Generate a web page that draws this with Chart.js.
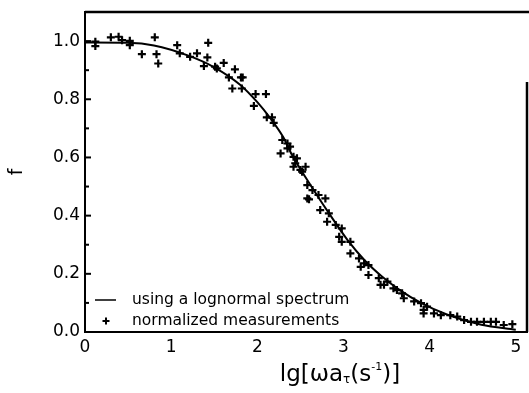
<!DOCTYPE html>
<html>
<head>
<meta charset="utf-8">
<script src="https://cdn.jsdelivr.net/npm/chart.js@4/dist/chart.umd.min.js"></script>
<style>
  body { margin: 0; background: #fff; }
  #wrap { width: 529px; height: 393px; }
</style>
</head>
<body>
<div id="wrap"><canvas id="relax" width="529" height="393"></canvas></div>
<script>
// lognormal spectrum fit, f vs lg(omega a_T)
const curveX = [0, 0.5, 0.8, 1.2, 1.5, 1.8, 2.0, 2.15, 2.3, 2.4, 2.65, 2.85, 3.05, 3.25, 3.45, 3.65, 3.9, 4.2, 4.6, 5.0];
const curveF = [0.995, 0.994, 0.985, 0.95, 0.91, 0.85, 0.79, 0.735, 0.67, 0.61, 0.49, 0.40, 0.315, 0.245, 0.19, 0.145, 0.10, 0.06, 0.025, 0.008];

// normalized measurements
const measX = [0.12, 0.12, 0.30, 0.39, 0.43, 0.52, 0.52, 0.66, 0.81, 0.83, 0.85, 1.07, 1.10, 1.22, 1.30, 1.42, 1.43, 1.38,
  1.51, 1.53, 1.61, 1.67, 1.71, 1.74, 1.81, 1.83, 1.82, 1.96, 1.98, 2.10, 2.11, 2.17, 2.19, 2.29, 2.27, 2.35, 2.38,
  2.42, 2.46, 2.42, 2.52, 2.56, 2.58, 2.58, 2.35, 2.44, 2.50, 2.64, 2.71, 2.60, 2.79, 2.73, 2.83, 2.81, 2.91, 2.98,
  2.95, 2.98, 3.08, 3.08, 3.18, 3.24, 3.20, 3.29, 3.29, 3.41, 3.51, 3.43, 3.47, 3.58, 3.62, 3.68, 3.70, 3.82, 3.90,
  3.97, 3.93, 3.93, 4.05, 4.13, 4.24, 4.32, 4.40, 4.48, 4.55, 4.63, 4.71, 4.77, 4.86, 4.96];
const measF = [0.998, 0.983, 1.013, 1.015, 1.003, 1.001, 0.986, 0.955, 1.013, 0.955, 0.923, 0.986, 0.958, 0.946, 0.958, 0.944, 0.994, 0.914,
  0.912, 0.906, 0.925, 0.875, 0.837, 0.903, 0.875, 0.875, 0.837, 0.777, 0.818, 0.818, 0.738, 0.738, 0.719, 0.660, 0.614, 0.648, 0.637,
  0.602, 0.597, 0.568, 0.551, 0.568, 0.505, 0.459, 0.631, 0.580, 0.557, 0.488, 0.471, 0.456, 0.459, 0.419, 0.408, 0.379, 0.368, 0.356,
  0.327, 0.310, 0.310, 0.270, 0.253, 0.236, 0.224, 0.230, 0.196, 0.185, 0.173, 0.162, 0.162, 0.150, 0.144, 0.133, 0.116, 0.105, 0.099,
  0.087, 0.076, 0.064, 0.064, 0.058, 0.058, 0.053, 0.041, 0.035, 0.035, 0.035, 0.035, 0.035, 0.024, 0.027];

const xTickLabels = ['0', '1', '2', '3', '4', '5'];
const yTickLabels = ['0.0', '0.2', '0.4', '0.6', '0.8', '1.0'];
const legendLabels = ['using a lognormal spectrum', 'normalized measurements'];

const FONT = '"DejaVu Sans", sans-serif';

// frame, inward y ticks, legend and the x title with sub/superscript
const decor = {
  id: 'decor',
  afterDraw(chart) {
    const { ctx, chartArea: a, scales } = chart;
    const ys = scales.y;
    ctx.save();
    ctx.strokeStyle = '#000';
    ctx.lineWidth = 2.5;
    ctx.beginPath();
    ctx.moveTo(a.left, a.top); ctx.lineTo(a.right + 2, a.top);
    ctx.moveTo(a.right, a.top + 70); ctx.lineTo(a.right, a.bottom);
    ctx.stroke();

    ctx.lineWidth = 2;
    for (let i = 1; i <= 10; i++) {
      const py = ys.getPixelForValue(i / 10);
      const len = i % 2 === 0 ? 6 : 4;
      ctx.beginPath();
      ctx.moveTo(a.left, py); ctx.lineTo(a.left + len, py);
      ctx.stroke();
    }

    // legend
    ctx.fillStyle = '#000';
    ctx.font = '15.5px ' + FONT;
    ctx.textBaseline = 'middle';
    ctx.textAlign = 'left';
    const lx = a.left + 10, tx = a.left + 47;
    const l1 = a.bottom - 32, l2 = a.bottom - 11;
    ctx.lineWidth = 1.5;
    ctx.beginPath(); ctx.moveTo(lx, l1); ctx.lineTo(lx + 21, l1); ctx.stroke();
    ctx.fillText(legendLabels[0], tx, l1);
    ctx.lineWidth = 2;
    const cx = lx + 11;
    ctx.beginPath();
    ctx.moveTo(cx - 3.5, l2); ctx.lineTo(cx + 3.5, l2);
    ctx.moveTo(cx, l2 - 3.5); ctx.lineTo(cx, l2 + 3.5);
    ctx.stroke();
    ctx.fillText(legendLabels[1], tx, l2);

    // x axis title: lg[ω a_τ (s^-1)]
    const parts = [
      { t: 'lg[\u03c9a', size: 23, dy: 0 },
      { t: '\u03c4', size: 12, dy: 5 },
      { t: '(s', size: 23, dy: 0 },
      { t: '-1', size: 11, dy: -8 },
      { t: ')]', size: 23, dy: 0 }
    ];
    let total = 0;
    parts.forEach(p => { ctx.font = p.size + 'px ' + FONT; p.w = ctx.measureText(p.t).width; total += p.w; });
    let x = 340 - total / 2;
    const by = 375;
    parts.forEach(p => {
      ctx.font = p.size + 'px ' + FONT;
      ctx.fillText(p.t, x, by + p.dy);
      x += p.w;
    });
    ctx.restore();
  }
};

new Chart(document.getElementById('relax'), {
  type: 'scatter',
  data: {
    datasets: [
      {
        label: legendLabels[0],
        data: curveX.map((x, i) => ({ x, y: curveF[i] })),
        showLine: true,
        borderColor: '#000',
        borderWidth: 2,
        pointRadius: 0,
        cubicInterpolationMode: 'monotone',
        order: 2
      },
      {
        label: legendLabels[1],
        data: measX.map((x, i) => ({ x, y: measF[i] })),
        pointStyle: 'cross',
        pointRadius: 4,
        borderColor: '#000',
        borderWidth: 2.2,
        order: 1
      }
    ]
  },
  options: {
    responsive: false,
    animation: false,
    events: [],
    layout: { autoPadding: false, padding: { left: 0, right: 2, top: 12, bottom: 0 } },
    plugins: { legend: { display: false }, tooltip: { enabled: false } },
    scales: {
      x: {
        type: 'linear',
        min: 0,
        max: 5.13,
        afterFit: s => { s.height = 61; s.paddingLeft = 0; s.paddingRight = 0; },
        grid: { display: false, drawTicks: false },
        border: { display: true, color: '#000', width: 2 },
        ticks: {
          stepSize: 1,
          includeBounds: false,
          padding: 5,
          color: '#000',
          font: { family: FONT, size: 17 },
          callback: v => xTickLabels[v] ?? ''
        }
      },
      y: {
        min: 0,
        max: 1.1,
        afterFit: s => { s.width = 85; s.paddingTop = 0; s.paddingBottom = 0; },
        grid: { display: false, drawTicks: false },
        border: { display: true, color: '#000', width: 2 },
        title: { display: true, text: 'f', color: '#000', font: { family: FONT, size: 19 }, padding: { top: 6, bottom: 0 } },
        ticks: {
          stepSize: 0.2,
          includeBounds: false,
          padding: 5,
          color: '#000',
          font: { family: FONT, size: 17 },
          callback: v => yTickLabels[Math.round(v * 5)] ?? ''
        }
      }
    }
  },
  plugins: [decor]
});
</script>
</body>
</html>
